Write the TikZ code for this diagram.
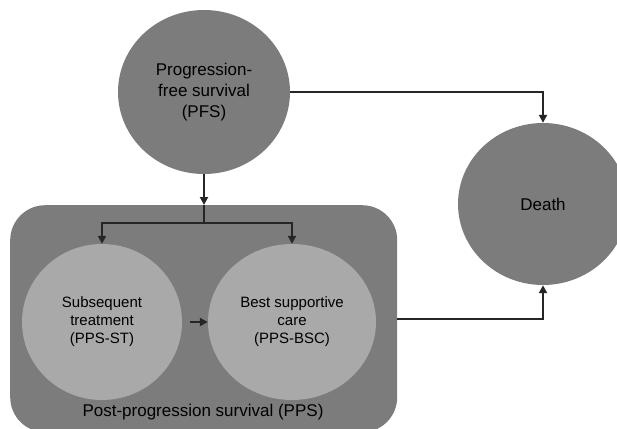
\documentclass[tikz,border=0pt]{standalone}
\usepackage{fontspec}
\setmainfont{Liberation Sans}
\usepackage{xcolor}
\usetikzlibrary{shapes.geometric, arrows.meta, positioning}
\definecolor{stategray}{RGB}{124,124,124}
\definecolor{subgray}{RGB}{169,169,169}
\definecolor{linegray}{RGB}{38,38,38}
\tikzset{
    state/.style={ellipse, fill=stategray, text=black, align=center, font=\fontsize{17}{21}\selectfont, inner sep=0pt},
    substate/.style={ellipse, fill=subgray, text=black, align=center, font=\fontsize{15}{18}\selectfont, inner sep=0pt, minimum height=156pt},
    group/.style={rectangle, rounded corners=35pt, fill=stategray, inner sep=0pt},
    link/.style={draw=linegray, line width=2pt},
    arrow/.style={link, -{Triangle[length=8pt,width=8pt]}}
}

\begin{document}
\begin{tikzpicture}[x=1pt, y=-1pt]
    \useasboundingbox (0,0) rectangle (617,428);
    \clip (0,0) rectangle (617,428);
    \node (pps) [group, minimum width=387pt, minimum height=227pt, anchor=north west] at (10,205) {};
    \node (ppslabel) at (203,412) [font=\fontsize{17}{21}\selectfont] {Post-progression survival (PPS)};
    \node (pfs) [state, minimum width=172pt, minimum height=164pt] at (204,92) {Progression-\\free survival\\(PFS)};
    \node (death) [state, minimum width=170pt, minimum height=162pt] at (543,204) {Death};
    \node (st) [substate, minimum width=160pt] at (102,322) {Subsequent\\treatment\\(PPS-ST)};
    \node (bsc) [substate, minimum width=168pt] at (292,322) {Best supportive\\care\\(PPS-BSC)};
    \coordinate (split) at (204,223);

    \draw [arrow] (pfs.south) -- (pfs.south |- pps.north);
    \draw [link] (pfs.south |- pps.north) -- (split);
    \draw [arrow] (split) -| (st.north);
    \draw [arrow] (split) -| (bsc.north);
    \draw [arrow, shorten <=8pt] (st.east) -- (bsc.west);
    \draw [arrow] (pfs.east) -| (death.north);
    \draw [arrow] (pps.east) -| (death.south);
\end{tikzpicture}
\end{document}
